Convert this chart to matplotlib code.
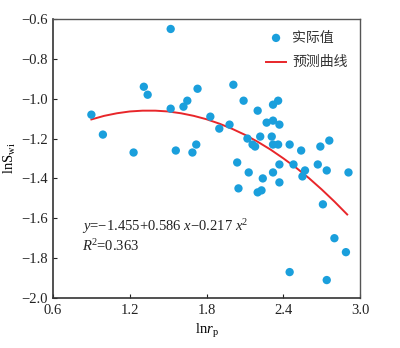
import matplotlib
matplotlib.use("Agg")
import matplotlib.pyplot as plt

plt.rcParams['font.family'] = ['Liberation Serif', 'Noto Sans CJK SC', 'DejaVu Sans']
plt.rcParams['mathtext.fontset'] = 'custom'
plt.rcParams['mathtext.rm'] = 'Liberation Serif'
plt.rcParams['mathtext.it'] = 'Liberation Serif:italic'

# Observed values (ln r_p, ln S_wi)
obs_x = [0.90, 0.99, 1.23, 1.31, 1.34, 1.52, 1.52, 1.56, 1.62, 1.65,
         1.69, 1.72, 1.73, 1.83, 1.90, 1.98, 2.01, 2.04, 2.09, 2.12,
         2.13, 2.05, 2.16, 2.18, 2.20, 2.20, 2.23, 2.22, 2.24, 2.27,
         2.32, 2.36, 2.32, 2.37, 2.31, 2.32, 2.36, 2.32, 2.37, 2.37,
         2.45, 2.54, 2.48, 2.55, 2.57, 2.67, 2.69, 2.76, 2.74, 2.91,
         2.71, 2.80, 2.89, 2.45, 2.74]
obs_y = [-1.08, -1.18, -1.27, -0.94, -0.98, -0.65, -1.05, -1.26, -1.04, -1.01,
         -1.27, -1.23, -0.95, -1.09, -1.15, -1.13, -0.93, -1.32, -1.01, -1.20,
         -1.37, -1.45, -1.23, -1.24, -1.06, -1.47, -1.46, -1.19, -1.40, -1.12,
         -1.03, -1.01, -1.11, -1.13, -1.19, -1.23, -1.23, -1.37, -1.33, -1.42,
         -1.23, -1.26, -1.33, -1.39, -1.36, -1.33, -1.24, -1.21, -1.36, -1.37,
         -1.53, -1.70, -1.77, -1.87, -1.91]

# Predicted curve
fit_x = [0.9, 1.0, 1.1, 1.2, 1.3, 1.4, 1.5, 1.6, 1.7, 1.8, 1.9,
         2.0, 2.1, 2.2, 2.3, 2.4, 2.5, 2.6, 2.7, 2.8, 2.9]
fit_y = [-1.104, -1.086, -1.073, -1.064, -1.060, -1.060, -1.064, -1.073, -1.086, -1.103, -1.125,
         -1.151, -1.181, -1.216, -1.255, -1.299, -1.346, -1.398, -1.455, -1.516, -1.581]

xticks = [0.6, 1.2, 1.8, 2.4, 3.0]
yticks = [-0.6, -0.8, -1.0, -1.2, -1.4, -1.6, -1.8, -2.0]

fig = plt.figure(figsize=(4.0, 3.48), dpi=100)
ax = fig.add_axes([0.1325, 0.1437, 0.7675, 0.8017])

ax.scatter(obs_x, obs_y, s=36, color='#1a9fdc', edgecolors='none', zorder=3, label='实际值')
ax.plot(fit_x, fit_y, color='#e8262a', lw=1.4, zorder=2, label='预测曲线')

ax.set_xlim(0.6, 3.0)
ax.set_ylim(-2.0, -0.6)
ax.set_xticks(xticks)
ax.set_xticklabels([f"{v:.1f}" for v in xticks])
ax.set_yticks(yticks)
ax.set_yticklabels([f"\u2212{abs(v):.1f}" for v in yticks])
ax.tick_params(direction='in', length=3, width=0.8, labelsize=10.5, colors='#222222', pad=4)

for side in ['left', 'bottom']:
    ax.spines[side].set_color('#333333')
    ax.spines[side].set_linewidth(1.2)
for side in ['right', 'top']:
    ax.spines[side].set_color('#555555')
    ax.spines[side].set_linewidth(1.0)

ax.set_xlabel(r'ln$\it{r}$$_{\rm p}$', fontsize=10.5, labelpad=4)
ax.set_ylabel(r'lnS$_{\rm wi}$', fontsize=10.5, labelpad=2)

ax.text(0.095, 0.240, r'$\it{y}$=−1.455+0.586 $\it{x}$−0.217 $\it{x}$$^2$',
        transform=ax.transAxes, fontsize=10.5, color='#222222')
ax.text(0.095, 0.170, r'$\it{R}$$^2$=0.363',
        transform=ax.transAxes, fontsize=10.5, color='#222222')

leg = ax.legend(loc='upper right', frameon=False, fontsize=10,
                handlelength=1.5, handletextpad=0.4, labelspacing=0.85,
                borderaxespad=0.5, markerscale=1.0)
for t in leg.get_texts():
    t.set_color('#333333')

fig.savefig('out.png', dpi=100)
